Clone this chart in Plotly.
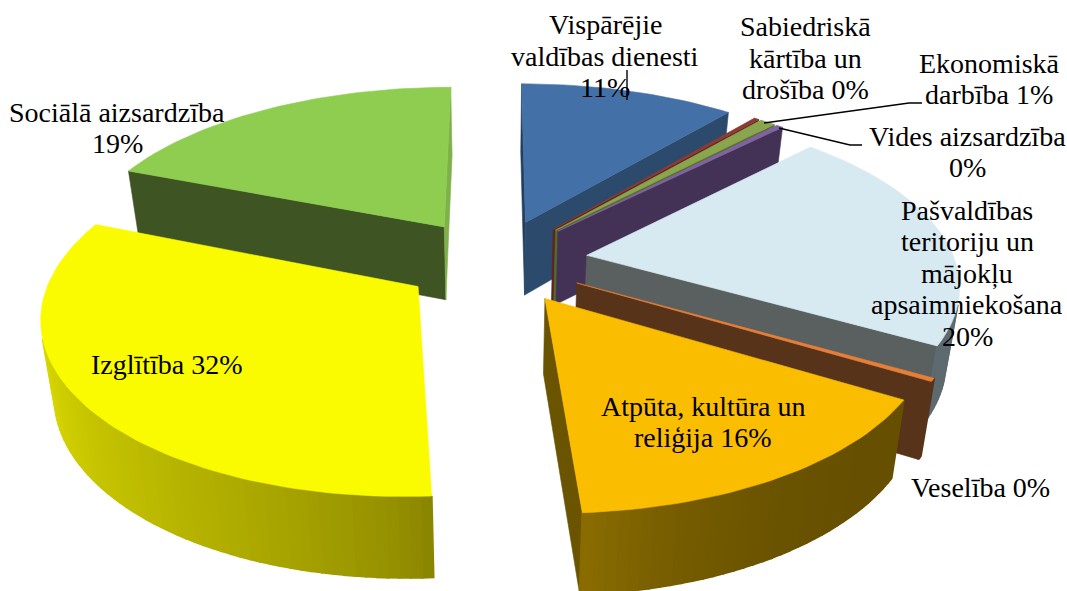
import math
import plotly.graph_objects as go

# ---- data ----
CATEGORIES = ["Vispārējie valdības dienesti", "Sabiedriskā kārtība un drošība", "Ekonomiskā darbība",
              "Vides aizsardzība", "Pašvaldības teritoriju un mājokļu apsaimniekošana", "Veselība",
              "Atpūta, kultūra un reliģija", "Izglītība", "Sociālā aizsardzība"]
VALUES = [11.0, 0.25, 0.8, 0.35, 20.9, 0.3, 15.4, 32.0, 19.0]
LABELS = [["Vispārējie", "valdības dienesti", "11%"], ["Sabiedriskā", "kārtība un", "drošība 0%"],
          ["Ekonomiskā", "darbība 1%"], ["Vides aizsardzība", "0%"],
          ["Pašvaldības", "teritoriju un", "mājokļu", "apsaimniekošana", "20%"], ["Veselība 0%"],
          ["Atpūta, kultūra un", "reliģija 16%"], ["Izglītība 32%"], ["Sociālā aizsardzība", "19%"]]

# ---- styling ----
TOP = ["#4470a8", "#8c3a34", "#89a54e", "#8064a2", "#d7eaf1", "#e87f38", "#fbbd00", "#fbfb00", "#8fcd50"]
START_FACE = ["#233f5e", "#5f2320", "#556a2e", "#433256", "#59605f", "#57331a", "#665000", "#888300", "#3e5423"]
END_FACE = ["#2b4a6c", "#5f2320", "#556a2e", "#433256", "#59605f", "#57331a", "#6a5400", "#888300", "#7fb04a"]
BAND_A = ["#2b4a6c", "#5f2320", "#556a2e", "#433256", "#5d6a6f", "#57331a", "#665000", "#888300", "#3e5423"]
BAND_B = ["#2b4a6c", "#5f2320", "#556a2e", "#433256", "#5d6a6f", "#57331a", "#8a6c00", "#f0f000", "#3e5423"]
BAND_EXP = [1, 1, 1, 1, 1, 1, 3, 0.7, 1]
ARC_X_SCALE = [1, 1, 1, 1, 0.99, 0.985, 0.99, 0.975, 1]
DRAW_ORDER = [8, 0, 1, 2, 3, 4, 5, 7, 6]
LABEL_POS = [(605, 56), (805, 58), (989, 79), (967, 152), (967, 273), (980, 487), (703, 422), (167, 364), (117, 128)]
LINE_PITCH = 31.5
FONT_SIZE = 28
LEADERS = [[(627, 70), (627, 100)], [(922, 103), (909, 103), (764, 123)], [(862, 145), (850, 145), (779, 128)]]

# projection of the exploded, tilted pie
CX, CY, GX, FY, PERSP, DEPTH, CONVERGE, EXPLODE = 495, 261, 372, 170, 0.15, 74, 0.03, 0.25


def project(x, y, bottom=False):
    s = 1 / (1 + PERSP * y)
    sx = CX + GX * x * s
    sy = CY - FY * y * s
    if bottom:
        sx = CX + (sx - CX) * (1 - CONVERGE)
        sy += DEPTH * s ** 0.5
    return sx, sy


def mix(a, b, t):
    ca = [int(a[i:i + 2], 16) for i in (1, 3, 5)]
    cb = [int(b[i:i + 2], 16) for i in (1, 3, 5)]
    return "rgb(%d,%d,%d)" % tuple(round(p + (q - p) * t) for p, q in zip(ca, cb))


def poly(fig, pts, color, width=0.6):
    xs = [p[0] for p in pts] + [pts[0][0]]
    ys = [p[1] for p in pts] + [pts[0][1]]
    fig.add_trace(go.Scatter(x=xs, y=ys, mode="lines", fill="toself", fillcolor=color,
                             line=dict(color=color, width=width), hoverinfo="skip", showlegend=False))


def quad(fig, a, b, color, width=0.6):
    q = [project(*a), project(*b), project(*b, True), project(*a, True)]
    area = sum(q[i][0] * q[(i + 1) % 4][1] - q[(i + 1) % 4][0] * q[i][1] for i in range(4))
    if area < 0:
        poly(fig, q, color, width)


fig = go.Figure()
total = sum(VALUES)
bounds = [0.0]
for v in VALUES:
    bounds.append(bounds[-1] + v / total * 2 * math.pi)

for i in DRAW_ORDER:
    a0, a1 = bounds[i], bounds[i + 1]
    mid = (a0 + a1) / 2
    ax, ay = EXPLODE * math.sin(mid), EXPLODE * math.cos(mid)
    n = max(2, int((a1 - a0) / math.radians(1.5)))
    arc = [(ax + ARC_X_SCALE[i] * math.sin(a0 + (a1 - a0) * k / n), ay + math.cos(a0 + (a1 - a0) * k / n))
           for k in range(n + 1)]
    quad(fig, (ax, ay), arc[0], START_FACE[i])
    quad(fig, arc[-1], (ax, ay), END_FACE[i])
    for k in range(n):
        quad(fig, arc[k], arc[k + 1], mix(BAND_A[i], BAND_B[i], ((k + 0.5) / n) ** BAND_EXP[i]), 2)
    poly(fig, [project(ax, ay)] + [project(*p) for p in arc], TOP[i])

for seg in LEADERS:
    fig.add_trace(go.Scatter(x=[p[0] for p in seg], y=[p[1] for p in seg], mode="lines",
                             line=dict(color="#000000", width=1.4), hoverinfo="skip", showlegend=False))

for lines, (lx, ly) in zip(LABELS, LABEL_POS):
    for k, text in enumerate(lines):
        fig.add_annotation(x=lx, y=ly + LINE_PITCH * (k - (len(lines) - 1) / 2), text=text, showarrow=False,
                           xanchor="center", yanchor="middle", align="center",
                           font=dict(family="Liberation Serif", size=FONT_SIZE, color="#000000"))

fig.update_layout(width=1067, height=591, margin=dict(l=0, r=0, t=0, b=0), paper_bgcolor="#ffffff",
                  plot_bgcolor="#ffffff", showlegend=False,
                  xaxis=dict(range=[0, 1067], visible=False, fixedrange=True),
                  yaxis=dict(range=[591, 0], visible=False, fixedrange=True))
fig.write_html("out.html", config={"displayModeBar": False},
               post_script="document.body.style.margin='0';document.documentElement.style.overflow='hidden';")
